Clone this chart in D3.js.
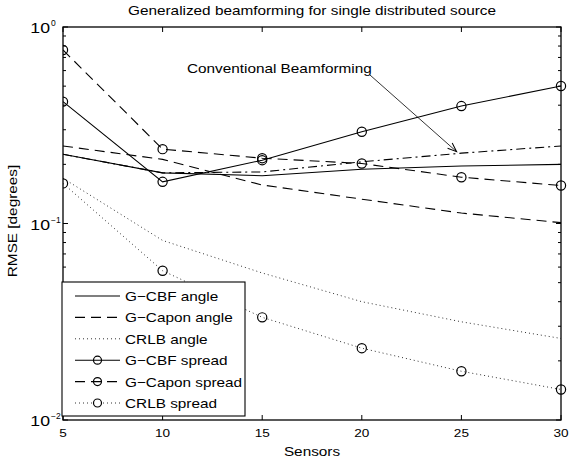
<!DOCTYPE html>
<html>
<head>
<meta charset="utf-8">
<script src="https://cdn.jsdelivr.net/npm/d3@7"></script>
<style>
  body { margin: 0; background: #fff; }
  text { font-family: "Liberation Sans", Arial, sans-serif; fill: #000; }
</style>
</head>
<body>
<div id="chart"></div>
<script>
"use strict";

// sensors on the x axis
var sensors = [5, 10, 15, 20, 25, 30];

// RMSE [degrees]
var gcbfAngle    = [0.225, 0.181, 0.175, 0.189, 0.196, 0.200];
var gcaponAngle  = [0.248, 0.212, 0.157, 0.133, 0.113, 0.101];
var crlbAngle    = [0.170, 0.082, 0.056, 0.040, 0.0316, 0.026];
var gcbfSpread   = [0.417, 0.163, 0.210, 0.293, 0.396, 0.501];
var gcaponSpread = [0.764, 0.239, 0.215, 0.202, 0.172, 0.156];
var crlbSpread   = [0.160, 0.0575, 0.0333, 0.0232, 0.0177, 0.0143];
var convAngle    = [0.225, 0.181, 0.183, 0.206, 0.228, 0.248];

var xTicks = [5, 10, 15, 20, 25, 30];
var yDecades = [0.01, 0.1, 1];
var yExponents = ["\u22122", "\u22121", "0"];

var legendNames = ["G\u2212CBF angle", "G\u2212Capon angle", "CRLB angle",
                   "G\u2212CBF spread", "G\u2212Capon spread", "CRLB spread"];

// annotation (data units): text anchor, arrow tail and head
var noteText = "Conventional Beamforming";
var noteAt = [11.22, 0.583];
var arrowFrom = [20.41, 0.570];
var arrowTo = [24.76, 0.232];

var width = 569, height = 464;
var plotL = 63, plotR = 561, plotT = 27, plotB = 420;
var SX = 1.18; // text in the original is a bit wider than tall

var x = d3.scaleLinear().domain([5, 30]).range([plotL, plotR]);
var y = d3.scaleLog().domain([0.01, 1]).range([plotB, plotT]);

var svg = d3.select("#chart").append("svg")
    .attr("width", width)
    .attr("height", height);

var defs = svg.append("defs");
defs.append("clipPath").attr("id", "plotclip")
  .append("rect")
    .attr("x", plotL).attr("y", plotT - 6)
    .attr("width", plotR - plotL + 6).attr("height", plotB - plotT + 12);

defs.append("marker")
    .attr("id", "arrowhead")
    .attr("viewBox", "-10 -5 12 10")
    .attr("refX", 0).attr("refY", 0)
    .attr("markerWidth", 12).attr("markerHeight", 10)
    .attr("markerUnits", "userSpaceOnUse")
    .attr("orient", "auto")
  .append("path")
    .attr("d", "M-9,-3.5 L0,0 L-9,3.5")
    .attr("fill", "none")
    .attr("stroke", "#000")
    .attr("stroke-width", 1);

function label(g, tx, ty, str, size, anchor, extra, sx) {
  return g.append("text")
    .attr("transform", "translate(" + tx + "," + ty + ")" + (extra || "") + " scale(" + (sx || SX) + ",1)")
    .attr("text-anchor", anchor || "start")
    .attr("font-size", size + "px")
    .text(str);
}

// ticks, inward on all four sides
var tickG = svg.append("g").attr("stroke", "#000").attr("stroke-width", 1);
xTicks.forEach(function(t) {
  tickG.append("line").attr("x1", x(t)).attr("x2", x(t)).attr("y1", plotB).attr("y2", plotB - 5);
  tickG.append("line").attr("x1", x(t)).attr("x2", x(t)).attr("y1", plotT).attr("y2", plotT + 5);
});
var minor = [];
for (var d = 0; d < 2; d++) {
  for (var k = 2; k <= 9; k++) minor.push(k * yDecades[d]);
}
yDecades.forEach(function(v) {
  tickG.append("line").attr("x1", plotL).attr("x2", plotL + 5).attr("y1", y(v)).attr("y2", y(v));
  tickG.append("line").attr("x1", plotR).attr("x2", plotR - 5).attr("y1", y(v)).attr("y2", y(v));
});
minor.forEach(function(v) {
  tickG.append("line").attr("x1", plotL).attr("x2", plotL + 3).attr("y1", y(v)).attr("y2", y(v));
  tickG.append("line").attr("x1", plotR).attr("x2", plotR - 3).attr("y1", y(v)).attr("y2", y(v));
});

// series
var lineGen = d3.line()
  .x(function(d) { return x(d[0]); })
  .y(function(d) { return y(d[1]); });

var series = [
  { vals: convAngle,    dash: "9,4,2,4", marker: false },
  { vals: crlbAngle,    dash: "1,3",     marker: false, dotted: true },
  { vals: crlbSpread,   dash: "1,3",     marker: true,  dotted: true },
  { vals: gcaponAngle,  dash: "10,6",    marker: false },
  { vals: gcaponSpread, dash: "10,6",    marker: true },
  { vals: gcbfAngle,    dash: null,      marker: false },
  { vals: gcbfSpread,   dash: null,      marker: true }
];

var plot = svg.append("g").attr("clip-path", "url(#plotclip)");
series.forEach(function(s) {
  var pts = sensors.map(function(n, i) { return [n, s.vals[i]]; });
  plot.append("path")
    .datum(pts)
    .attr("d", lineGen)
    .attr("fill", "none")
    .attr("stroke", s.dotted ? "#333" : "#000")
    .attr("stroke-width", s.dotted ? 1 : 1.1)
    .attr("stroke-dasharray", s.dash);
  if (s.marker) {
    plot.selectAll(null)
      .data(pts)
      .enter()
      .append("circle")
      .attr("cx", function(d) { return x(d[0]); })
      .attr("cy", function(d) { return y(d[1]); })
      .attr("r", 4.6)
      .attr("fill", "none")
      .attr("stroke", "#000")
      .attr("stroke-width", 1.2);
  }
});

// frame
svg.append("rect")
  .attr("x", plotL).attr("y", plotT)
  .attr("width", plotR - plotL).attr("height", plotB - plotT)
  .attr("fill", "none")
  .attr("stroke", "#000")
  .attr("stroke-width", 1.3);

// title and axis labels
label(svg, 312, 15, "Generalized beamforming for single distributed source", 13, "middle");
label(svg, 312, 456, "Sensors", 13, "middle");
label(svg, 17, 221, "RMSE [degrees]", 13, "middle", " rotate(-90)");

// annotation
label(svg, x(noteAt[0]), y(noteAt[1]), noteText, 13, "start");
svg.append("line")
  .attr("x1", x(arrowFrom[0])).attr("y1", y(arrowFrom[1]))
  .attr("x2", x(arrowTo[0])).attr("y2", y(arrowTo[1]))
  .attr("stroke", "#000")
  .attr("stroke-width", 0.8)
  .attr("marker-end", "url(#arrowhead)");

// legend
var legX = 62, legY = 282, legW = 183, legH = 134, rowH = 21.4;
var legend = svg.append("g");
legend.append("rect")
  .attr("x", legX).attr("y", legY)
  .attr("width", legW).attr("height", legH)
  .attr("fill", "#fff")
  .attr("stroke", "#000")
  .attr("stroke-width", 1.1);

var legendStyles = [
  { dash: null,   marker: false },
  { dash: "10,6", marker: false },
  { dash: "1,3",  marker: false, dotted: true },
  { dash: null,   marker: true },
  { dash: "10,6", marker: true },
  { dash: "1,3",  marker: true, dotted: true }
];

legendNames.forEach(function(name, i) {
  var ry = legY + 14 + i * rowH;
  var st = legendStyles[i];
  legend.append("line")
    .attr("x1", 75).attr("x2", 120)
    .attr("y1", ry).attr("y2", ry)
    .attr("stroke", st.dotted ? "#333" : "#000")
    .attr("stroke-width", st.dotted ? 1 : 1.1)
    .attr("stroke-dasharray", st.dash);
  if (st.marker) {
    legend.append("circle")
      .attr("cx", 97.5).attr("cy", ry)
      .attr("r", 4)
      .attr("fill", st.dotted ? "#fff" : "none")
      .attr("stroke", "#000")
      .attr("stroke-width", 1.2);
  }
  label(legend, 125, ry + 5, name, 13, "start");
});

// tick labels (drawn last so the legend never hides them)
xTicks.forEach(function(t) {
  label(svg, x(t), plotB + 17, t, 11.5, "middle");
});
yDecades.forEach(function(v, i) {
  label(svg, plotL - 13, y(v) + 6, "10", 15, "end");
  label(svg, plotL - 12, y(v) - 1, yExponents[i], 8.5, "start", "", 1);
});
</script>
</body>
</html>
